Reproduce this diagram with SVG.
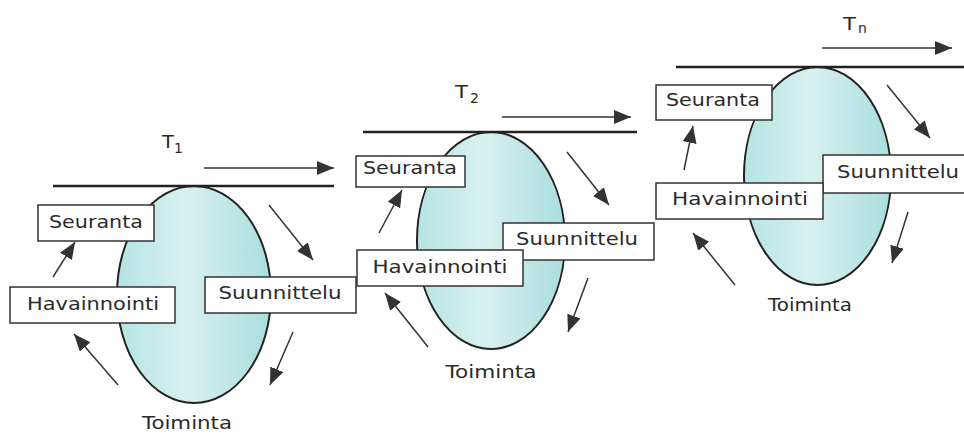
<svg xmlns="http://www.w3.org/2000/svg" width="964" height="434" viewBox="0 0 964 434">
<style>
.lbl{font-family:"DejaVu Sans","Open Sans",sans-serif;font-size:18px;fill:#2a2a2a;text-anchor:middle}
.tl{font-family:"DejaVu Sans","Open Sans",sans-serif;font-size:17px;fill:#2a2a2a}
.sub{font-size:14px}
.box{fill:#fff;stroke:#333;stroke-width:1.5}
.oval{fill:url(#g);stroke:#222;stroke-width:2}
.axis{stroke:#222;stroke-width:2.5;fill:none}
.arr{stroke:#333;stroke-width:1.5;fill:none;marker-end:url(#ah)}
</style>
<defs>
<linearGradient id="g" x1="0" y1="0" x2="1" y2="0">
<stop offset="0" stop-color="#b4e4e3"/>
<stop offset="0.45" stop-color="#d9f0f0"/>
<stop offset="1" stop-color="#a8dedd"/>
</linearGradient>
<marker id="ah" markerUnits="userSpaceOnUse" markerWidth="18" markerHeight="15" refX="17" refY="7" orient="auto">
<path d="M0,0 L17,7 L0,14 z" fill="#333"/>
</marker>
</defs>
<rect width="964" height="434" fill="#fff"/>

<g id="cycle1">
<g id="toiminta1"><ellipse class="oval" cx="194" cy="294.5" rx="77" ry="108.5"/><text class="lbl" x="187" y="429" textLength="90" lengthAdjust="spacingAndGlyphs">Toiminta</text></g>
<g id="timeline1"><line class="axis" x1="53" y1="186" x2="334" y2="186"/><text class="tl" x="162" y="148" textLength="12" lengthAdjust="spacingAndGlyphs">T</text><text class="tl sub" x="174" y="153">1</text></g>
<g id="seuranta1"><rect class="box" x="38" y="205" width="116" height="36"/><text class="lbl" x="96" y="228" textLength="94" lengthAdjust="spacingAndGlyphs">Seuranta</text></g>
<g id="suunnittelu1"><rect class="box" x="205" y="277" width="151" height="36"/><text class="lbl" x="280" y="299" textLength="123" lengthAdjust="spacingAndGlyphs">Suunnittelu</text></g>
<g id="havainnointi1"><rect class="box" x="10" y="287" width="165" height="36"/><text class="lbl" x="93" y="310" textLength="132" lengthAdjust="spacingAndGlyphs">Havainnointi</text></g>
</g>

<g id="cycle2">
<g id="toiminta2"><ellipse class="oval" cx="491" cy="240.5" rx="74" ry="108.5"/><text class="lbl" x="491" y="378" textLength="91" lengthAdjust="spacingAndGlyphs">Toiminta</text></g>
<g id="timeline2"><line class="axis" x1="363" y1="132" x2="637" y2="132"/><text class="tl" x="455" y="98" textLength="13" lengthAdjust="spacingAndGlyphs">T</text><text class="tl sub" x="470" y="103">2</text></g>
<g id="seuranta2"><rect class="box" x="356" y="156" width="109" height="31"/><text class="lbl" x="410" y="174" textLength="94" lengthAdjust="spacingAndGlyphs">Seuranta</text></g>
<g id="suunnittelu2"><rect class="box" x="503" y="223" width="151" height="37"/><text class="lbl" x="577" y="245" textLength="122" lengthAdjust="spacingAndGlyphs">Suunnittelu</text></g>
<g id="havainnointi2"><rect class="box" x="357" y="250" width="166" height="36"/><text class="lbl" x="440" y="273" textLength="135" lengthAdjust="spacingAndGlyphs">Havainnointi</text></g>
</g>

<g id="cycle3">
<g id="toiminta3"><ellipse class="oval" cx="817.5" cy="176" rx="73.5" ry="109"/><text class="lbl" x="810" y="311" textLength="84" lengthAdjust="spacingAndGlyphs">Toiminta</text></g>
<g id="timeline3"><line class="axis" x1="676" y1="67" x2="964" y2="67"/><text class="tl" x="843" y="30" textLength="13" lengthAdjust="spacingAndGlyphs">T</text><text class="tl sub" x="858" y="33">n</text></g>
<g id="seuranta3"><rect class="box" x="656" y="85" width="116" height="35"/><text class="lbl" x="713" y="106" textLength="94" lengthAdjust="spacingAndGlyphs">Seuranta</text></g>
<g id="suunnittelu3"><rect class="box" x="823" y="155" width="142" height="38"/><text class="lbl" x="898" y="178" textLength="122" lengthAdjust="spacingAndGlyphs">Suunnittelu</text></g>
<g id="havainnointi3"><rect class="box" x="656" y="183" width="167" height="36"/><text class="lbl" x="740" y="205" textLength="136" lengthAdjust="spacingAndGlyphs">Havainnointi</text></g>
</g>

<g id="connectors">
<line class="arr" x1="204" y1="168" x2="334" y2="168"/>
<line class="arr" x1="53" y1="277" x2="75" y2="242"/>
<line class="arr" x1="269" y1="205" x2="313" y2="260"/>
<line class="arr" x1="293" y1="332" x2="270" y2="385"/>
<line class="arr" x1="118" y1="385" x2="74" y2="334"/>

<line class="arr" x1="502" y1="117" x2="631" y2="117"/>
<line class="arr" x1="379" y1="233" x2="402" y2="190"/>
<line class="arr" x1="567" y1="152" x2="609" y2="205"/>
<line class="arr" x1="588" y1="278" x2="568" y2="332"/>
<line class="arr" x1="428" y1="347" x2="385" y2="293"/>

<line class="arr" x1="822" y1="48" x2="952" y2="48"/>
<line class="arr" x1="684" y1="170" x2="693" y2="126"/>
<line class="arr" x1="887" y1="85" x2="930" y2="138"/>
<line class="arr" x1="908" y1="212" x2="892" y2="263"/>
<line class="arr" x1="735" y1="285" x2="693" y2="233"/>
</g>
</svg>
